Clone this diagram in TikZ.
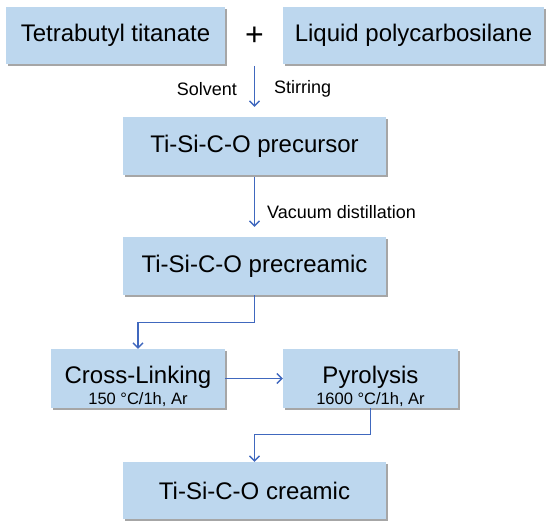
\documentclass[tikz,border=0pt]{standalone}
\usepackage{fontspec}
\setmainfont{Liberation Sans}
\usepackage{tikz}
\usetikzlibrary{arrows.meta,positioning,shadows}
\definecolor{boxblue}{RGB}{189,215,238}
\definecolor{flowblue}{RGB}{64,104,190}
\newcommand{\subline}[2]{\raisebox{-10pt}[\height][\depth]{\begin{tabular}{@{}c@{}}#1\\[-5pt]{\fontsize{16.5}{18}\selectfont #2}\end{tabular}}}

\begin{document}
\begin{tikzpicture}[x=1pt,y=-1pt,
	procbox/.style={fill=boxblue, inner sep=0pt, minimum height=58pt, minimum width=#1, align=center, font=\fontsize{24}{26}\selectfont, drop shadow={shadow xshift=1.5pt, shadow yshift=-1.8pt, fill=black!50, opacity=0.7}},
	note/.style={font=\fontsize{18}{20}\selectfont, inner sep=0pt},
	flow/.style={draw=flowblue, line width=1.4pt, -{Straight Barb[length=5pt,width=10pt]}}]
	\useasboundingbox (0,0) rectangle (550,527);
	\node [procbox=219pt, minimum height=57pt] (titanate) at (115.5,35.5) {Tetrabutyl titanate};
	\node [procbox=261pt, minimum height=57pt] (pcs) at (413.5,35.5) {Liquid polycarbosilane};
	\node [font=\fontsize{32}{32}\selectfont, inner sep=0pt] (plus) at (254.5,36) {+};
	\node [procbox=263pt] (precursor) at (254.5,146) {Ti-Si-C-O precursor};
	\node [procbox=263pt] (preceramic) at (254.5,266) {Ti-Si-C-O precreamic};
	\node [procbox=174pt, minimum height=59pt] (crosslink) at (138,378.5) {\subline{Cross-Linking}{150 °C/1h, Ar}};
	\node [procbox=175pt, minimum height=59pt] (pyrolysis) at (370.5,378.5) {\subline{Pyrolysis}{1600 °C/1h, Ar}};
	\node [procbox=263pt, minimum height=57pt] (ceramic) at (254.5,490.5) {Ti-Si-C-O creamic};
	\coordinate (mix) at (254.5,66);
	\draw [flow, shorten >=10pt] (mix) -- (precursor.north)
		node [note, pos=0.45, left=17pt] {Solvent}
		node [note, pos=0.45, right=19pt] {Stirring};
	\draw [flow, shorten <=2pt, shorten >=10pt] (precursor.south) -- (preceramic.north)
		node [note, pos=0.6, right=12pt] {Vacuum distillation};
	\draw [flow] (preceramic.south) -- ++(0,27) -| (crosslink.north);
	\draw [flow] (crosslink.east) -- (pyrolysis.west);
	\draw [flow] (pyrolysis.south) -- ++(0,26) -| (ceramic.north);
\end{tikzpicture}
\end{document}
